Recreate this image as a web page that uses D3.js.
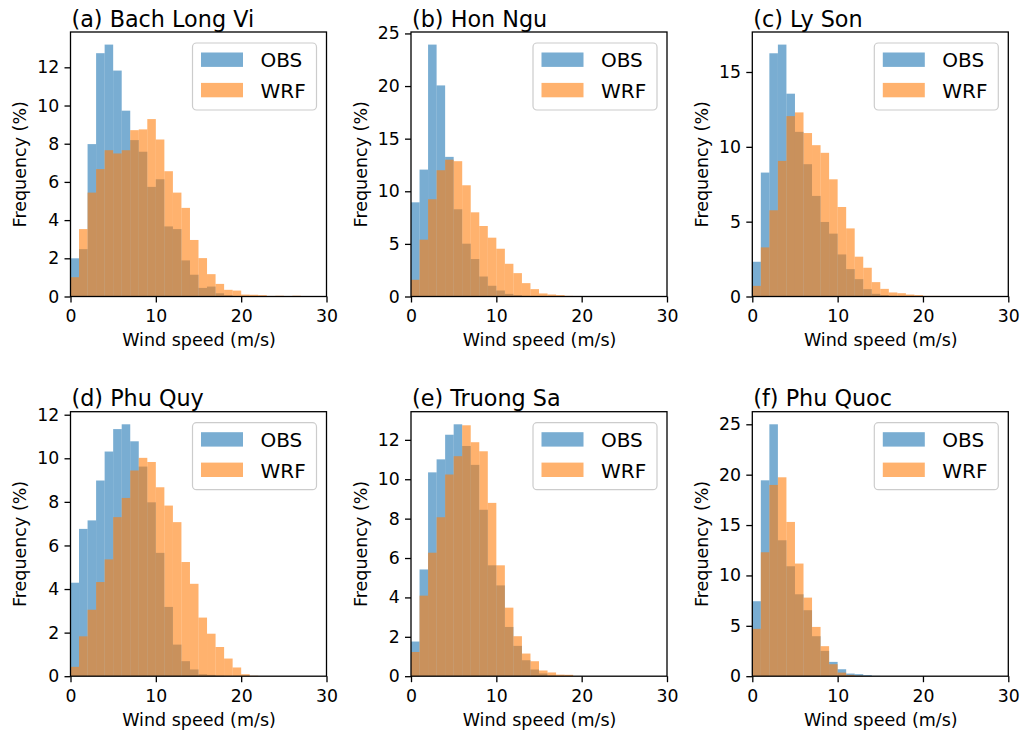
<!DOCTYPE html>
<html>
<head>
<meta charset="utf-8">
<script src="https://cdn.jsdelivr.net/npm/d3@7"></script>
<style>
  html, body { margin: 0; padding: 0; background: #ffffff; }
  svg { display: block; font-family: "DejaVu Sans", sans-serif; }
</style>
</head>
<body>
<svg id="chart" width="1022" height="733"></svg>
<script>
// ---- Data (frequency %, bins of 1 m/s starting at 0) ----
const binStarts = d3.range(0, 30);
const xTicks = [0, 10, 20, 30];
const seriesNames = ["OBS", "WRF"];
const panelTitles = ["(a) Bach Long Vi", "(b) Hon Ngu", "(c) Ly Son", "(d) Phu Quy", "(e) Truong Sa", "(f) Phu Quoc"];

const obsA = [2.0, 2.48, 7.98, 12.74, 13.19, 11.83, 9.73, 8.19, 7.58, 5.74, 6.14, 3.67, 3.53, 1.89, 1.14, 0.45, 0.52, 0.17, 0.07, 0.03, 0.01];
const wrfA = [1.01, 3.53, 5.44, 6.67, 7.66, 7.49, 7.66, 8.71, 8.75, 9.29, 8.22, 6.56, 5.44, 4.64, 2.96, 2.01, 1.17, 0.66, 0.35, 0.31, 0.10, 0.09, 0.07, 0.03, 0.04, 0.02, 0.04];
const obsB = [8.95, 12.06, 23.94, 20.06, 13.27, 8.29, 5.02, 3.56, 1.90, 1.02, 0.57, 0.25, 0.13, 0.06, 0.03, 0.01];
const wrfB = [1.59, 5.40, 9.24, 12.0, 13.0, 12.86, 10.57, 8.0, 6.70, 5.59, 4.54, 3.11, 2.22, 1.27, 0.70, 0.29, 0.19, 0.13, 0.06, 0.05, 0.03];
const obsC = [2.32, 8.28, 16.25, 16.83, 13.55, 11.0, 8.84, 6.72, 4.98, 4.20, 2.81, 1.83, 1.16, 0.49, 0.18, 0.09, 0.04, 0.02];
const wrfC = [0.71, 3.28, 5.76, 9.06, 12.05, 12.30, 10.92, 10.11, 9.60, 7.83, 5.98, 4.55, 2.66, 1.92, 0.96, 0.51, 0.27, 0.22, 0.13, 0.09, 0.04, 0.04];
const obsD = [4.29, 6.76, 7.15, 8.98, 10.31, 11.34, 11.56, 10.78, 9.62, 7.98, 5.66, 3.18, 1.45, 0.69, 0.31, 0.09, 0.06, 0.02];
const wrfD = [0.43, 1.83, 3.05, 4.32, 5.36, 7.30, 8.18, 9.44, 10.02, 9.83, 8.67, 7.83, 7.07, 5.24, 4.24, 2.69, 1.95, 1.34, 0.81, 0.40, 0.09, 0.02];
const obsE = [1.76, 5.42, 10.35, 11.01, 12.26, 12.79, 11.69, 10.73, 8.45, 5.63, 4.61, 2.50, 1.54, 0.81, 0.34, 0.14, 0.03, 0.01];
const wrfE = [1.23, 4.09, 6.27, 8.07, 10.24, 11.17, 12.74, 11.88, 11.42, 8.80, 5.63, 3.48, 2.03, 1.15, 0.76, 0.29, 0.19, 0.08, 0.07];
const obsF = [7.44, 19.44, 25.0, 13.49, 10.91, 8.13, 6.55, 3.97, 2.51, 1.42, 0.69, 0.26, 0.20, 0.10, 0.03];
const wrfF = [4.70, 12.30, 18.98, 19.74, 15.31, 11.18, 7.80, 4.89, 2.98, 1.19, 0.36, 0.13, 0.05, 0.02];

const yTicksA = [0, 2, 4, 6, 8, 10, 12];
const yTicksB = [0, 5, 10, 15, 20, 25];
const yTicksC = [0, 5, 10, 15];
const yTicksD = [0, 2, 4, 6, 8, 10, 12];
const yTicksE = [0, 2, 4, 6, 8, 10, 12];
const yTicksF = [0, 5, 10, 15, 20, 25];

const panels = [
  { title: panelTitles[0], obs: obsA, wrf: wrfA, yTicks: yTicksA },
  { title: panelTitles[1], obs: obsB, wrf: wrfB, yTicks: yTicksB },
  { title: panelTitles[2], obs: obsC, wrf: wrfC, yTicks: yTicksC },
  { title: panelTitles[3], obs: obsD, wrf: wrfD, yTicks: yTicksD },
  { title: panelTitles[4], obs: obsE, wrf: wrfE, yTicks: yTicksE },
  { title: panelTitles[5], obs: obsF, wrf: wrfF, yTicks: yTicksF }
];

// ---- Layout ----
const colLeft = [70.5, 411, 752.3];
const rowTop = [32, 411.7];
const W = 256, H = 264.5;
const colors = { OBS: "#1f77b4", WRF: "#ff7f0e" };
const barOpacity = 0.6;

const svg = d3.select("#chart");
svg.append("rect").attr("width", 1022).attr("height", 733).attr("fill", "#ffffff");

panels.forEach((p, idx) => {
  const left = colLeft[idx % 3];
  const top = rowTop[Math.floor(idx / 3)];
  const bottom = top + H;
  const right = left + W;
  const ymax = 1.05 * d3.max(p.obs.concat(p.wrf));

  const x = d3.scaleLinear().domain([0, 30]).range([left, right]);
  const y = d3.scaleLinear().domain([0, ymax]).range([bottom, top]);

  const g = svg.append("g");

  [["OBS", p.obs], ["WRF", p.wrf]].forEach(([name, vals]) => {
    g.append("g").selectAll("rect")
      .data(binStarts.map((b, i) => ({ b, v: vals[i] || 0 })).filter(d => d.v > 0))
      .join("rect")
      .attr("x", d => x(d.b))
      .attr("width", d => x(d.b + 1) - x(d.b))
      .attr("y", d => y(d.v))
      .attr("height", d => bottom - y(d.v))
      .attr("fill", colors[name])
      .attr("fill-opacity", barOpacity);
  });

  // axes
  const xAxis = d3.axisBottom(x).tickValues(xTicks).tickSize(6).tickSizeOuter(0).tickPadding(7.2)
    .tickFormat(d3.format("d"));
  const yAxis = d3.axisLeft(y).tickValues(p.yTicks).tickSize(6).tickSizeOuter(0).tickPadding(5.2)
    .tickFormat(d3.format("d"));
  const gx = g.append("g").attr("transform", `translate(0,${bottom})`).call(xAxis);
  const gy = g.append("g").attr("transform", `translate(${left},0)`).call(yAxis);
  [gx, gy].forEach(ax => {
    ax.select(".domain").remove();
    ax.selectAll(".tick line").attr("stroke", "#000").attr("stroke-width", 1.3);
    ax.selectAll(".tick text").attr("fill", "#000").style("font-size", "17.3px")
      .style("font-family", "DejaVu Sans, sans-serif");
  });

  // frame
  g.append("rect").attr("x", left).attr("y", top).attr("width", W).attr("height", H)
    .attr("fill", "none").attr("stroke", "#000").attr("stroke-width", 1.3);

  // labels
  g.append("text").attr("x", (left + right) / 2 + 0.5).attr("y", bottom + 49.5)
    .attr("text-anchor", "middle").style("font-size", "17.5px").text("Wind speed (m/s)");
  g.append("text")
    .attr("transform", `translate(${left - 44.5},${(top + bottom) / 2}) rotate(-90)`)
    .attr("text-anchor", "middle").style("font-size", "17.5px").text("Frequency (%)");
  g.append("text").attr("x", left + 1).attr("y", top - 5.5)
    .style("font-size", "22.3px").text(p.title);

  // legend
  const lx = right - 134, ly = top + 11;
  const lg = g.append("g");
  lg.append("rect").attr("x", lx).attr("y", ly).attr("width", 124).attr("height", 67)
    .attr("rx", 4).attr("fill", "#ffffff").attr("fill-opacity", 0.8)
    .attr("stroke", "#cccccc").attr("stroke-width", 1.2);
  seriesNames.forEach((name, i) => {
    lg.append("rect").attr("x", lx + 8.5).attr("y", ly + 9.5 + i * 30.4)
      .attr("width", 42).attr("height", 14.4)
      .attr("fill", colors[name]).attr("fill-opacity", barOpacity);
    lg.append("text").attr("x", lx + 68).attr("y", ly + 24.3 + i * 30.6)
      .style("font-size", "20px").text(name);
  });
});
</script>
</body>
</html>
